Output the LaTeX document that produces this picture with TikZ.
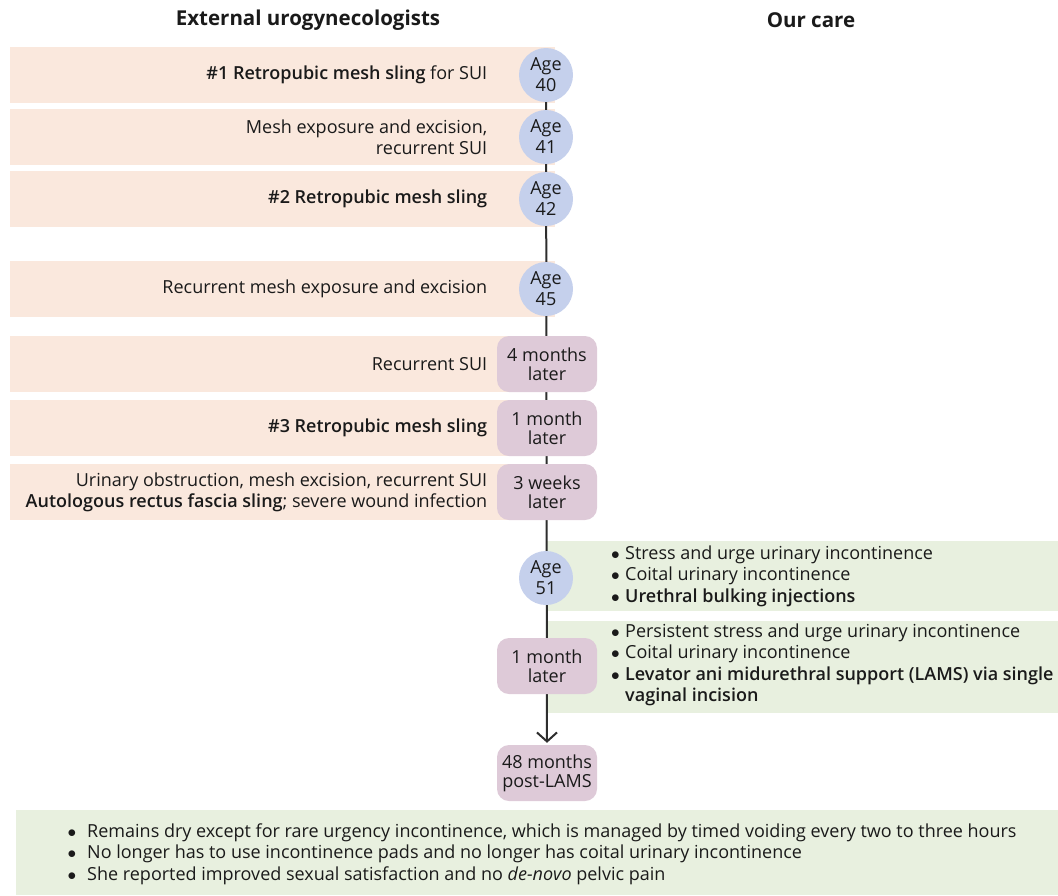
\documentclass[tikz,border=0pt]{standalone}
\usepackage{fontspec}
\IfFontExistsTF{Open Sans SemiBold}{\setmainfont{Open Sans}[BoldFont={Open Sans SemiBold}]}{\IfFontExistsTF{Open Sans Semibold}{\setmainfont{Open Sans}[BoldFont={Open Sans Semibold}]}{\setmainfont{Open Sans}}}
\newfontfamily\headfont{Open Sans}
\usetikzlibrary{arrows.meta}
\pgfdeclarelayer{boxes}
\pgfdeclarelayer{lines}
\pgfsetlayers{boxes,lines,main}
\definecolor{peach}{HTML}{FAE8DD}
\definecolor{agec}{HTML}{C5D0EC}
\definecolor{mauve}{HTML}{DECAD8}
\definecolor{greenbg}{HTML}{E8F0DF}
\definecolor{ink}{HTML}{1A1A1A}
\definecolor{linec}{HTML}{2E2E2E}
\newcommand{\bul}{\makebox[14pt][l]{$\bullet$}}
\newcommand{\bulw}{\makebox[19.5pt][l]{$\bullet$}}
\begin{document}
\begin{tikzpicture}[x=1pt,y=-1pt,
  every node/.style={font=\fontsize{18}{21.5}\selectfont, text=ink, inner sep=0pt},
  peachbox/.style={fill=peach, minimum width=545pt, minimum height=56pt, anchor=north west},
  greenbox/.style={fill=greenbg, anchor=north west},
  ltext/.style={anchor=east, align=right},
  gtext/.style={anchor=west, align=left},
  agecirc/.style={circle, fill=agec, minimum size=54pt, align=center, font=\fontsize{18}{21}\selectfont},
  timebox/.style={rounded corners=12pt, fill=mauve, minimum width=100pt, minimum height=56pt, align=center, font=\fontsize{18}{19}\selectfont},
  header/.style={font=\headfont\fontsize{20.5}{24}\selectfont\bfseries},
  tline/.style={draw=linec, line width=2pt}
]
\useasboundingbox (0,0) rectangle (1058,895);

% headers
\node[header] (h1) at (308,20) {External urogynecologists};
\node[header] (h2) at (811,20) {Our care};

% background boxes
\begin{pgfonlayer}{boxes}
\node[peachbox] (p1) at (10,47) {};
\node[peachbox] (p2) at (10,109) {};
\node[peachbox] (p3) at (10,171) {};
\node[peachbox] (p4) at (10,261) {};
\node[peachbox] (p5) at (10,336) {};
\node[peachbox] (p6) at (10,400) {};
\node[peachbox] (p7) at (10,464) {};
\node[greenbox, minimum width=511pt, minimum height=70pt] (g1) at (547,541) {};
\node[greenbox, minimum width=511pt, minimum height=92pt] (g2) at (547,621) {};
\node[greenbox, minimum width=1042pt, minimum height=85pt] (g3) at (16,810) {};
\end{pgfonlayer}

% left texts
\node[ltext] (l1) at ([xshift=-68pt]p1.east) {\textbf{\#1 Retropubic mesh sling} for SUI};
\node[ltext] (l2) at ([xshift=-68pt]p2.east) {Mesh exposure and excision,\\recurrent SUI};
\node[ltext] (l3) at ([xshift=-68pt]p3.east) {\textbf{\#2 Retropubic mesh sling}};
\node[ltext] (l4) at ([xshift=-68pt]p4.east) {Recurrent mesh exposure and excision};
\node[ltext] (l5) at ([xshift=-68pt]p5.east) {Recurrent SUI};
\node[ltext] (l6) at ([xshift=-68pt]p6.east) {\textbf{\#3 Retropubic mesh sling}};
\node[ltext] (l7) at ([xshift=-68pt]p7.east) {Urinary obstruction, mesh excision, recurrent SUI\\\textbf{Autologous rectus fascia sling}; severe wound infection};

% timeline markers
\node[agecirc] (a40) at (546,75) {Age\\40};
\node[agecirc] (a41) at (546,137) {Age\\41};
\node[agecirc] (a42) at (546,199) {Age\\42};
\node[agecirc] (a45) at (546,289) {Age\\45};
\node[timebox] (t1) at (547,364) {4 months\\later};
\node[timebox] (t2) at (547,428) {1 month\\later};
\node[timebox] (t3) at (547,492) {3 weeks\\later};
\node[agecirc] (a51) at (546,578) {Age\\51};
\node[timebox] (t4) at (547,666) {1 month\\later};
\node[timebox] (t5) at (547,773) {48 months\\post-LAMS};

% right texts
\node[gtext] (r1) at (611,576) {\bul Stress and urge urinary incontinence\\\bul Coital urinary incontinence\\\bul\textbf{Urethral bulking injections}};
\node[gtext] (r2) at (611,665) {\bul Persistent stress and urge urinary incontinence\\\bul Coital urinary incontinence\\\bul\textbf{Levator ani midurethral support (LAMS) via single}\\\hspace*{14pt}\textbf{vaginal incision}};
\node[gtext] (r3) at (67.5,854) {\bulw Remains dry except for rare urgency incontinence, which is managed by timed voiding every two to three hours\\\bulw No longer has to use incontinence pads and no longer has coital urinary incontinence\\\bulw She reported improved sexual satisfaction and no \textit{de-novo} pelvic pain};

% timeline
\begin{pgfonlayer}{lines}
\draw[tline, -{Straight Barb[length=9pt,width=20pt]}, shorten >=2pt] (a40.center) -- (t5.north);
\end{pgfonlayer}
\end{tikzpicture}
\end{document}
